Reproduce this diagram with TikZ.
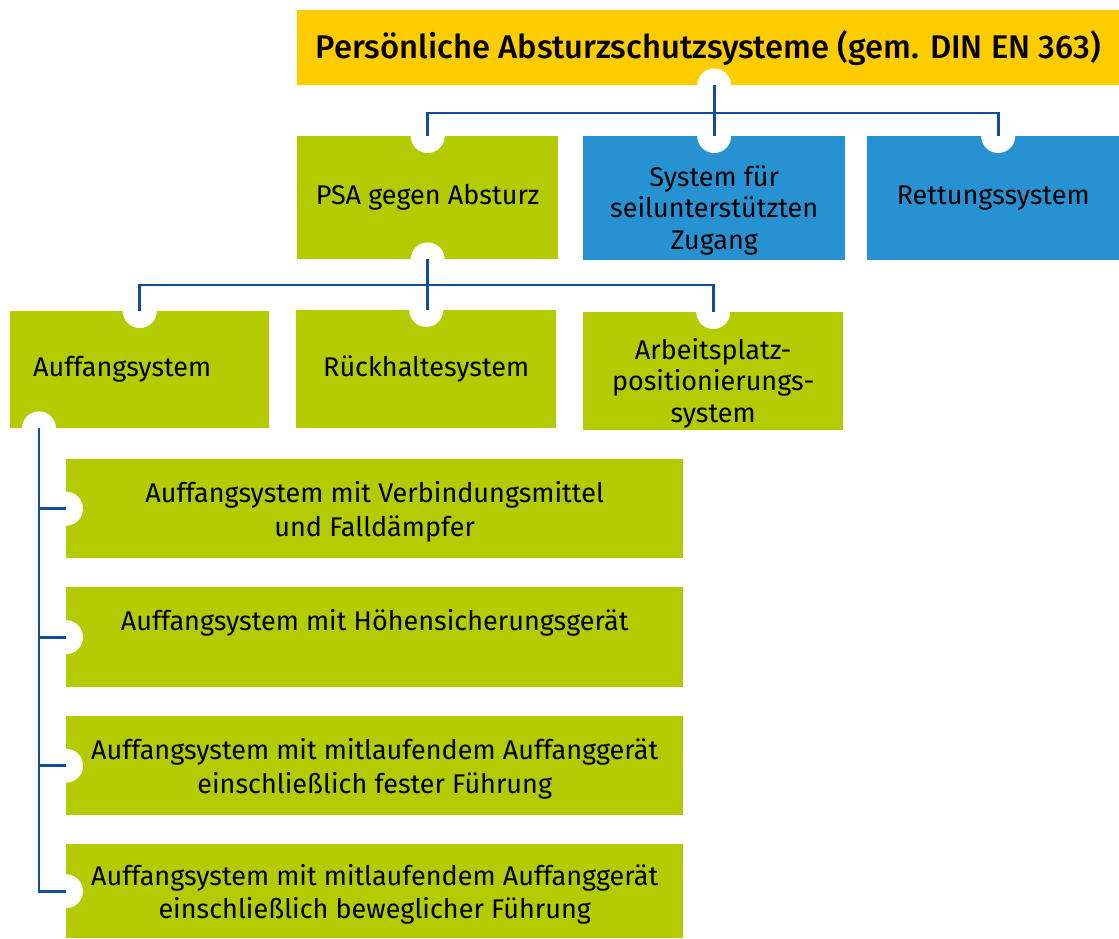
\documentclass[tikz,border=0pt]{standalone}
\usepackage{fontspec}
\setmainfont{Fira Sans}[BoldFont={Fira Sans Medium}]
\definecolor{ygold}{RGB}{255,204,0}
\definecolor{lgreen}{RGB}{179,203,0}
\definecolor{sky}{RGB}{38,146,210}
\definecolor{linec}{RGB}{16,78,156}
\begin{document}
\begin{tikzpicture}[x=1pt,y=-1pt,
  box/.style={draw=none, inner sep=0pt, align=center, anchor=north west,
    font=\fontsize{27}{33.5}\selectfont},
  txt/.style={inner sep=0pt, align=center, font=\fontsize{27}{33.5}\selectfont},
  gbox/.style={box, fill=lgreen},
  bbox/.style={box, fill=sky},
  notch/.style={fill=white},
  conn/.style={draw=linec, line width=2.8pt}]
\useasboundingbox (0,0) rectangle (1119,938);

% boxes
\node[box, fill=ygold, minimum width=822pt, minimum height=75pt,
  font=\fontsize{32.8}{38}\selectfont\bfseries] (top) at (297,10)
  {Persönliche Absturzschutzsysteme (gem. DIN EN 363)};

\node[gbox, minimum width=261pt, minimum height=123pt] (psa) at (297,136) {PSA gegen Absturz};
\node[bbox, minimum width=262pt, minimum height=124pt] (sys) at (583,136) {};
\node[txt, font=\fontsize{27}{31.5}\selectfont] (sysT) at ([yshift=-12pt]sys.center) {System für\\seilunterstützten\\Zugang};
\node[bbox, minimum width=252pt, minimum height=124pt] (ret) at (867,136) {Rettungssystem};

\node[gbox, minimum width=259pt, minimum height=117pt, text width=213pt, align=left] (auff) at (10,311) {\raisebox{-3pt}{Auffangsystem}};
\node[gbox, minimum width=260pt, minimum height=118pt] (rueck) at (296,310) {\raisebox{-3pt}{Rückhaltesystem}};
\node[gbox, minimum width=260pt, minimum height=118pt] (arb) at (583,312) {};
\node[txt, font=\fontsize{27}{31.5}\selectfont] (arbT) at ([yshift=-12pt]arb.center) {Arbeitsplatz-\\positionierungs-\\system};

\node[gbox, minimum width=617pt, minimum height=99pt] (s1) at (66,459) {};
\node[txt] (s1T) at ([yshift=-3pt]s1.center) {Auffangsystem mit Verbindungsmittel\\und Falldämpfer};
\node[gbox, minimum width=617pt, minimum height=100pt] (s2) at (66,587) {Auffangsystem mit Höhensicherungsgerät\\\mbox{}};
\node[gbox, minimum width=617pt, minimum height=99pt] (s3) at (66,716) {};
\node[txt] (s3T) at ([yshift=-3pt]s3.center) {Auffangsystem mit mitlaufendem Auffanggerät\\einschließlich fester Führung};
\node[gbox, minimum width=617pt, minimum height=94pt] (s4) at (66,844) {};
\node[txt] (s4T) at ([yshift=-3pt]s4.center) {Auffangsystem mit mitlaufendem Auffanggerät\\einschließlich beweglicher Führung};

% connection points
\coordinate (tp) at (top.south -| sys.north);
\coordinate (rp) at ([xshift=5pt]ret.north);
\coordinate (bus1) at (0,113);
\coordinate (bus2) at (0,285);
\coordinate (sp) at ([xshift=29pt]auff.south west);

% notches
\foreach \p in {tp, psa.north, sys.north, rp, psa.south, auff.north, rueck.north, arb.north, sp, s1.west, s2.west, s3.west, s4.west}
  \fill[notch] (\p) circle (17);

% connectors
\draw[conn] (tp) -- (sys.north);
\draw[conn] (psa.north) -- (psa.north |- bus1) -- (rp |- bus1) -- (rp);
\draw[conn] (psa.south) -- (psa.south |- rueck.north);
\draw[conn] (auff.north) -- (auff.north |- bus2) -- (arb.north |- bus2) -- (arb.north);
\draw[conn] (sp) |- (s4.west);
\draw[conn] (s1.west) -- (s1.west -| sp);
\draw[conn] (s2.west) -- (s2.west -| sp);
\draw[conn] (s3.west) -- (s3.west -| sp);
\end{tikzpicture}
\end{document}
